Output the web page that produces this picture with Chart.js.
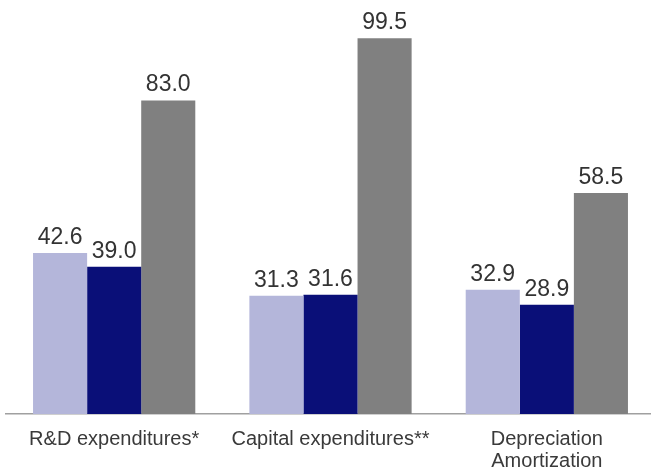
<!DOCTYPE html>
<html>
<head>
<meta charset="utf-8">
<script src="https://cdn.jsdelivr.net/npm/chart.js@4"></script>
<style>
  html, body { margin: 0; padding: 0; background: #fff; overflow: hidden; }
  #wrap { position: relative; width: 656px; height: 472px; }
</style>
</head>
<body>
<div id="wrap"><canvas id="chart"></canvas></div>
<script>
// Categories and series values
const categories = ['R&D expenditures*', 'Capital expenditures**', ['Depreciation', 'Amortization']];
const seriesA = [42.6, 31.3, 32.9];
const seriesB = [39.0, 31.6, 28.9];
const seriesC = [83.0, 99.5, 58.5];

const FONT = '"Liberation Sans", Arial, sans-serif';

/** Draw each bar's value just above its top. */
const valueLabels = {
  id: 'valueLabels',
  afterDatasetsDraw(chart) {
    const { ctx } = chart;
    ctx.save();
    ctx.font = `23px ${FONT}`;
    ctx.fillStyle = '#333333';
    ctx.textAlign = 'center';
    ctx.textBaseline = 'alphabetic';
    chart.data.datasets.forEach((ds, i) => {
      chart.getDatasetMeta(i).data.forEach((bar, j) => {
        ctx.fillText(ds.data[j].toFixed(1), bar.x, bar.y - 9);
      });
    });
    ctx.restore();
  },
};

new Chart(document.getElementById('chart'), {
  type: 'bar',
  data: {
    labels: categories,
    datasets: [
      { data: seriesA, backgroundColor: '#b4b6da' },
      { data: seriesB, backgroundColor: '#0a0f78' },
      { data: seriesC, backgroundColor: '#808080' },
    ],
  },
  options: {
    responsive: true,
    maintainAspectRatio: false,
    animation: false,
    layout: { padding: { left: 6, right: 1, top: 0, bottom: 0 } },
    datasets: { bar: { categoryPercentage: 0.75, barPercentage: 1.0, borderWidth: 0 } },
    scales: {
      x: {
        grid: { display: true, drawOnChartArea: false, drawTicks: false, color: 'transparent' },
        border: { display: true, color: '#a0a0a0', width: 1.5 },
        ticks: {
          color: '#3a3a3a',
          padding: 14,
          maxRotation: 0,
          autoSkip: false,
          font: { family: FONT, size: 20, lineHeight: 1.1 },
        },
        afterFit(scale) { scale.height = 58; },
      },
      y: { display: false, min: 0, max: 109.6 },
    },
    plugins: {
      legend: { display: false },
      tooltip: { enabled: false },
    },
  },
  plugins: [valueLabels],
});
</script>
</body>
</html>
